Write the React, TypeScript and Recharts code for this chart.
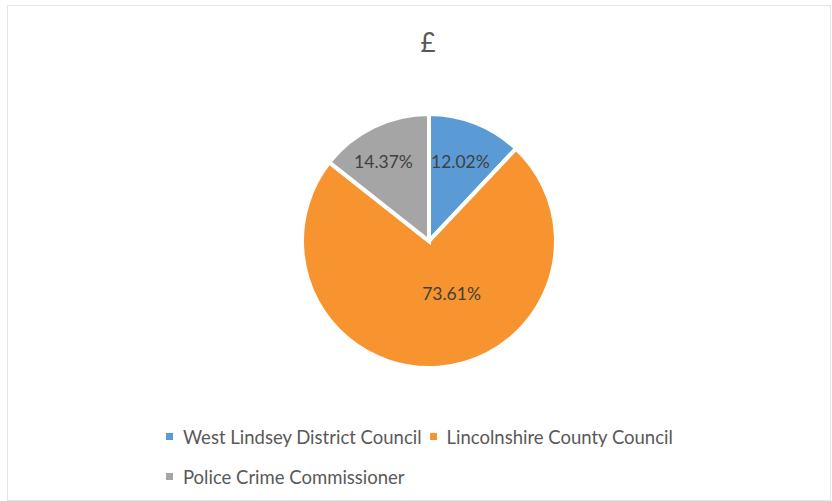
import { PieChart, Pie, Cell, Legend } from 'recharts';

const CATEGORIES = ['West Lindsey District Council', 'Lincolnshire County Council', 'Police Crime Commissioner'];
const SHARES = [12.02, 73.61, 14.37];
const COLORS = ['#5B9BD5', '#F7942F', '#A5A5A5'];

// clockwise angle nudge (deg) and radius factor per label, like Excel's "best fit"
const LABEL_TWEAK = [
  { dAngle: 0, r: 0.67 },
  { dAngle: -19, r: 0.45 },
  { dAngle: -4, r: 0.72 },
];

const data = CATEGORIES.map((name, i) => ({ name, value: SHARES[i] }));

const RAD = Math.PI / 180;
const FONT = 'Lato, "Open Sans", sans-serif';

function renderLabel(props: any) {
  const { cx, cy, midAngle, outerRadius, index, value } = props;
  const t = LABEL_TWEAK[index];
  const ang = midAngle - t.dAngle;
  const r = outerRadius * t.r;
  const x = cx + r * Math.cos(-ang * RAD);
  const y = cy + r * Math.sin(-ang * RAD);
  return (
    <text x={x} y={y} textAnchor="middle" dominantBaseline="central" fill="#404040" fontSize={17.5} fontFamily={FONT}>
      {value.toFixed(2)}%
    </text>
  );
}

function LegendBox() {
  return (
    <div style={{ display: 'flex', flexWrap: 'wrap', width: 600, rowGap: 17, columnGap: 8, fontFamily: FONT, fontSize: 18.5, color: '#595959' }}>
      {CATEGORIES.map((c, i) => (
        <div key={c} style={{ display: 'flex', alignItems: 'center', height: 23 }}>
          <span style={{ width: 7, height: 7, background: COLORS[i], marginRight: 10, display: 'inline-block' }} />
          {c}
        </div>
      ))}
    </div>
  );
}

export default function App() {
  return (
    <div style={{ position: 'absolute', left: 0, top: 0, width: 832, height: 501, background: '#fff' }}>
      <div style={{ position: 'absolute', left: 7, top: 5, width: 822, height: 494, border: '1px solid #e4e4e4' }} />
      <div style={{ position: 'absolute', left: 24, top: 26, width: 808, textAlign: 'center', fontFamily: FONT, fontSize: 26, color: '#595959' }}>
        £
      </div>
      <PieChart width={832} height={501} style={{ position: 'absolute', left: 0, top: 0 }}>
        <Pie
          data={data}
          dataKey="value"
          nameKey="name"
          cx={424}
          cy={236}
          outerRadius={127}
          startAngle={90}
          endAngle={-270}
          stroke="#fff"
          strokeWidth={4}
          label={renderLabel}
          labelLine={false}
          isAnimationActive={false}
        >
          {data.map((_, i) => (
            <Cell key={i} fill={COLORS[i]} />
          ))}
        </Pie>
        <Legend content={<LegendBox />} wrapperStyle={{ left: 166, top: 425, width: 620 }} />
      </PieChart>
    </div>
  );
}
